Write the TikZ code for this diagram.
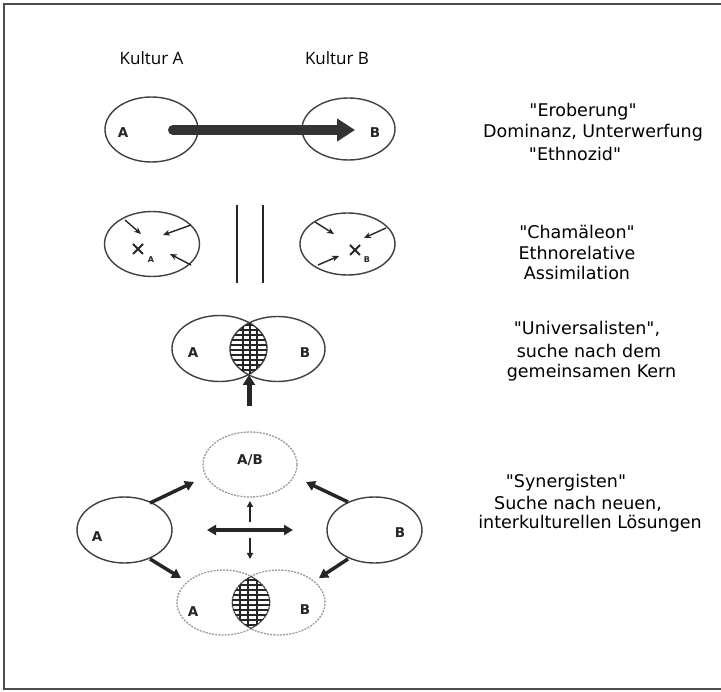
\documentclass[tikz,border=0pt]{standalone}
\usepackage{fontspec}
\setmainfont{DejaVu Sans}
\newfontfamily\kfont{Open Sans}
\newfontfamily\lblfont{DejaVu Sans}
\usetikzlibrary{arrows.meta,shapes.geometric}
\newcommand{\qq}{\textquotedbl}
\begin{document}
\begin{tikzpicture}[x=1pt,y=-1pt,
  ell/.style={ellipse, draw=black!75, line width=1.4pt, minimum width=94pt, minimum height=65pt, inner sep=0pt},
  dell/.style={ellipse, draw=black!40, line width=1.3pt, dash pattern=on 2pt off 1.2pt, minimum width=94pt, minimum height=65pt, inner sep=0pt},
  lbl/.style={font=\lblfont\bfseries\fontsize{13.5}{14}\selectfont, inner sep=0pt, text=black!85},
  sublbl/.style={font=\lblfont\bfseries\fontsize{8}{8}\selectfont, inner sep=0pt, text=black!85},
  desc/.style={font=\fontsize{17.5}{21}\selectfont, inner sep=0pt},
  kult/.style={font=\kfont\fontsize{17}{20}\selectfont, inner sep=0pt},
  thin arrow/.style={line width=1.4pt, black!85, -{Stealth[length=7pt,width=6pt]}},
  mid arrow/.style={line width=3.5pt, black!85, -{Triangle[length=9pt,width=10pt]}},
  hatch/.style={line width=1.1pt, black!85},
  vline/.style={line width=1.6pt, black!85},
]
\useasboundingbox (0,0) rectangle (721,692);
\fill[white] (0,0) rectangle (721,692);
\draw[line width=2pt, black!70] (721,4) -- (4,4) -- (4,689) -- (721,689);

% headings
\node[kult] (kA) at (151.5,58) {Kultur A};
\node[kult] (kB) at (337,58) {Kultur B};

% row 1
\node[ell, minimum width=93pt, minimum height=65pt] (r1A) at (151.5,129.5) {};
\node[ell, minimum width=93pt, minimum height=62pt] (r1B) at (348.5,129) {};
\node[lbl] (r1Al) at (123,133) {A};
\node[lbl] (r1Bl) at (375,133) {B};
\coordinate (t1s) at (173,130);
\coordinate (t1e) at (355,130);
\draw[line width=10pt, black!80, line cap=round, -{Triangle[length=18pt,width=22pt]}] (t1s) -- (t1e);

% row 2
\node[ell, minimum width=95pt, minimum height=65pt] (r2A) at (152,244) {};
\node[ell, minimum width=95pt, minimum height=62pt] (r2B) at (347.5,244) {};
\coordinate (xA) at (138,249);
\draw[line width=1.8pt, black!85] ([shift={(-5,-5)}]xA) -- ([shift={(5,5)}]xA)
  ([shift={(-5,5)}]xA) -- ([shift={(5,-5)}]xA);
\node[sublbl] (xAl) at (151,260) {A};
\coordinate (xB) at (355,250);
\draw[line width=1.8pt, black!85] ([shift={(-5,-5)}]xB) -- ([shift={(5,5)}]xB)
  ([shift={(-5,5)}]xB) -- ([shift={(5,-5)}]xB);
\node[sublbl] (xBl) at (367,260) {B};
\coordinate (a1s) at (125,220); \coordinate (a1e) at (141,234);
\coordinate (a2s) at (191,225); \coordinate (a2e) at (163,235);
\coordinate (a3s) at (191,265); \coordinate (a3e) at (170,254);
\coordinate (b1s) at (315,222); \coordinate (b1e) at (334,234);
\coordinate (b2s) at (386,228); \coordinate (b2e) at (364,238);
\coordinate (b3s) at (318,265); \coordinate (b3e) at (339,256);
\foreach \s/\e in {a1s/a1e,a2s/a2e,a3s/a3e,b1s/b1e,b2s/b2e,b3s/b3e}
  \draw[thin arrow] (\s) -- (\e);
\coordinate (v1t) at (237,205); \coordinate (v1b) at (237,283);
\coordinate (v2t) at (263,205); \coordinate (v2b) at (263,283);
\draw[vline] (v1t) -- (v1b);
\draw[vline] (v2t) -- (v2b);

% row 3
\node[ell, minimum width=95pt, minimum height=66pt] (V1) at (219.5,348.5) {};
\node[ell, minimum width=95pt, minimum height=65pt] (V2) at (277.5,349) {};
\begin{scope}
  \clip (V1.center) ellipse [x radius=47.5pt, y radius=33pt];
  \clip (V2.center) ellipse [x radius=47.5pt, y radius=32.5pt];
  \foreach \yy in {320,325,...,380} \draw[hatch] (220,\yy) -- (285,\yy);
  \foreach \xx in {243,250,257} \draw[hatch] (\xx,310) -- (\xx,390);
\end{scope}
\node[lbl] (V1l) at (193,353) {A};
\node[lbl] (V2l) at (305,353) {B};
\coordinate (u1s) at (249,406);
\coordinate (u1e) at (249,375);
\draw[line width=5pt, black!85, -{Triangle[length=10pt,width=12pt]}] (u1s) -- (u1e);

% row 4
\node[dell, minimum width=94pt, minimum height=65pt] (AB) at (250,464.5) {};
\node[lbl] (ABl) at (250,460) {A/B};
\node[ell, minimum width=95pt, minimum height=66pt] (LA) at (124.5,530) {};
\node[lbl] (LAl) at (97,537) {A};
\node[ell, minimum width=95pt, minimum height=66pt] (RB) at (374.5,530) {};
\node[lbl] (RBl) at (400,533) {B};
\node[dell, minimum width=93pt, minimum height=65pt] (W1) at (223.5,602.5) {};
\node[dell, minimum width=93pt, minimum height=65pt] (W2) at (278.5,602.5) {};
\begin{scope}
  \clip (W1.center) ellipse [x radius=46.5pt, y radius=32.5pt];
  \clip (W2.center) ellipse [x radius=46.5pt, y radius=32.5pt];
  \foreach \yy in {575,580,...,630} \draw[hatch, line width=1.4pt] (225,\yy) -- (280,\yy);
  \foreach \xx in {240,248,257} \draw[hatch, line width=1.2pt] (\xx,565) -- (\xx,640);
  \draw[line width=1.4pt, black!80] (W1.center) ellipse [x radius=46.5pt, y radius=32.5pt];
  \draw[line width=1.4pt, black!80] (W2.center) ellipse [x radius=46.5pt, y radius=32.5pt];
\end{scope}
\node[lbl] (W1l) at (193,612) {A};
\node[lbl] (W2l) at (305,610) {B};

\coordinate (m1s) at (150,503); \coordinate (m1e) at (194,482);
\coordinate (m2s) at (150,559); \coordinate (m2e) at (181,578);
\coordinate (m3s) at (348,502); \coordinate (m3e) at (306,482);
\coordinate (m4s) at (348,559); \coordinate (m4e) at (319,578);
\foreach \s/\e in {m1s/m1e,m2s/m2e,m3s/m3e,m4s/m4e}
  \draw[mid arrow] (\s) -- (\e);
\coordinate (hL) at (207,530); \coordinate (hR) at (293,530);
\draw[line width=3.5pt, black!85, {Triangle[length=9pt,width=10pt]}-{Triangle[length=9pt,width=10pt]}] (hL) -- (hR);
\coordinate (su) at (250,522); \coordinate (sue) at (250,501);
\coordinate (sd) at (250,538); \coordinate (sde) at (250,559);
\draw[line width=1.5pt, black!85, -{Triangle[length=6pt,width=6pt]}] (su) -- (sue);
\draw[line width=1.5pt, black!85, -{Triangle[length=6pt,width=6pt]}] (sd) -- (sde);

% right-hand descriptions
\node[desc] (d1a) at (583,112) {\qq Eroberung\qq};
\node[desc] (d1b) at (593,133) {Dominanz, Unterwerfung};
\node[desc] (d1c) at (575,154) {\qq Ethnozid\qq};
\node[desc] (d2a) at (577,232) {\qq Chamäleon\qq};
\node[desc] (d2b) at (577,253) {Ethnorelative};
\node[desc] (d2c) at (577,273) {Assimilation};
\node[desc] (d3a) at (587,329) {\qq Universalisten\qq,};
\node[desc] (d3b) at (589,351) {suche nach dem};
\node[desc] (d3c) at (591.5,373) {gemeinsamen Kern};
\node[desc] (d4a) at (566,483) {\qq Synergisten\qq};
\node[desc] (d4b) at (578,504) {Suche nach neuen,};
\node[desc] (d4c) at (590,524) {interkulturellen Lösungen};
\end{tikzpicture}
\end{document}
